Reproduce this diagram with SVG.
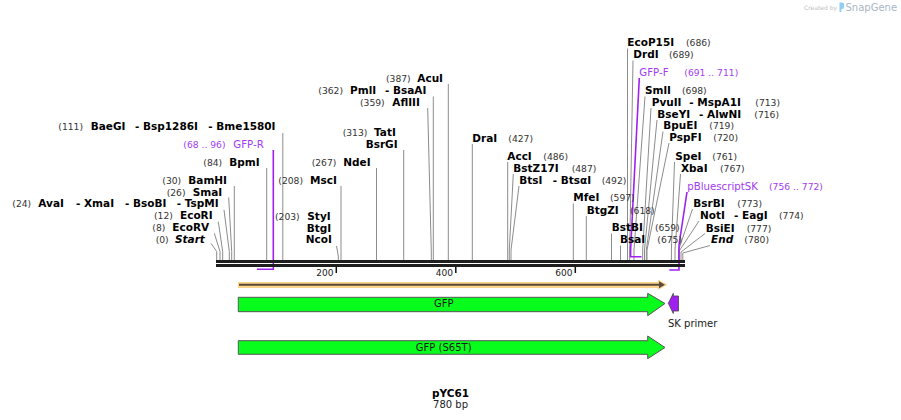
<svg xmlns="http://www.w3.org/2000/svg" width="901" height="420" viewBox="0 0 901 420">
<style>
.n{font-family:"DejaVu Sans",Verdana,sans-serif;font-weight:bold;font-size:10.5px;fill:#000}
.it{font-style:italic}
.c{font-family:"DejaVu Sans",Verdana,sans-serif;font-size:9.2px;fill:#333}
.p{font-family:"DejaVu Sans",Verdana,sans-serif;font-size:10.2px;fill:#a33cf2}
.pc{font-family:"DejaVu Sans",Verdana,sans-serif;font-size:9.2px;fill:#a33cf2}
.l{stroke:#8c8c8c;stroke-width:1;fill:none}
.pl{stroke:#a020f0;stroke-width:1.6;fill:none}
.f{font-family:"DejaVu Sans",Verdana,sans-serif;font-size:10px;fill:#1a1a1a}
.arr{fill:#08fc1c;stroke:#555;stroke-width:1}
.tk{font-family:"DejaVu Sans",Verdana,sans-serif;font-size:9px;fill:#222}
</style>
<rect width="901" height="420" fill="#fff"/>

<g id="watermark">
<text x="804" y="10" font-family="DejaVu Sans,sans-serif" font-size="6px" fill="#c0c0c0">Created by</text>
<path d="M839.5,2.5 h2.5 a2.2,2.2 0 0 1 2.2,2.2 v2 a2.2,2.2 0 0 1 -2.2,2.2 h-0.6 v3 h-1.9 z" fill="#8fcdf2"/>
<text x="845.5" y="10.7" font-family="DejaVu Sans,sans-serif" font-size="10px" fill="#a9b6c4">SnapGene</text>
</g>

<g id="connectors">
<path class="l" d="M282.8,133V260"/>
<path class="l" d="M266.7,168V260"/>
<path class="l" d="M234.3,186V260"/>
<path class="l" d="M228.7,197.5L231.7,251.5V260"/>
<path class="l" d="M224,210L229.3,251.5V260"/>
<path class="l" d="M218.3,221.7L222.7,251.5V260"/>
<path class="l" d="M214.3,233.3L220,251.5V260"/>
<path class="l" d="M211,243.3L216.7,251.5V260"/>
<path class="l" d="M341,186V260"/>
<path class="l" d="M336.5,246L338.3,256V260"/>
<path class="l" d="M376.5,168V260"/>
<path class="l" d="M403.7,150V260"/>
<path class="l" d="M427.7,108L431.3,252V260"/>
<path class="l" d="M433.3,96.5V260"/>
<path class="l" d="M448.3,84V260"/>
<path class="l" d="M472.3,144V260"/>
<path class="l" d="M507.7,162V260"/>
<path class="l" d="M513.3,174L509.3,250V260"/>
<path class="l" d="M519,186L511,250V260"/>
<path class="l" d="M573.3,203.5V260"/>
<path class="l" d="M586.3,216V260"/>
<path class="l" d="M611.5,233.5V260"/>
<path class="l" d="M620.5,245.5V260"/>
<path class="l" d="M627.5,48.5V260"/>
<path class="l" d="M633,60.5L629.7,250V260"/>
<path class="l" d="M645,96.5L634,250V260"/>
<path class="l" d="M651,108L642.7,250V260"/>
<path class="l" d="M657,120L644.5,250V260"/>
<path class="l" d="M663,131.5L646.3,250V260"/>
<path class="l" d="M669,143L647,250V260"/>
<path class="l" d="M674.5,162L671.4,250V260"/>
<path class="l" d="M680.5,174L675,250V260"/>
<path class="l" d="M692.5,209L678.6,250V260"/>
<path class="l" d="M699,221L679.2,251V260"/>
<path class="l" d="M705,233.5L681,252V260"/>
<path class="l" d="M710,245.5L682.8,253V260"/>
<path class="pl" d="M273.3,150V269.3H257"/>
<path class="pl" d="M639.3,78L630.6,250V256.7H641.5"/>
<path class="pl" d="M687,192L679,245V270H669.3"/>
</g>

<g id="sequence">
<rect x="216" y="260" width="469" height="3" fill="#1e1e1e"/>
<rect x="216" y="264" width="469" height="3" fill="#1e1e1e"/>
<path d="M336.3,267V273M455.8,267V273M575.3,267V273" stroke="#111" stroke-width="1.5"/>
<text class="tk" x="333.5" y="275.5" text-anchor="end">200</text>
<text class="tk" x="453" y="275.5" text-anchor="end">400</text>
<text class="tk" x="572.5" y="275.5" text-anchor="end">600</text>
</g>

<g id="BaeGI"><text class="c" x="58.3" y="129.5">(111)</text><text class="n" y="129.5"><tspan x="90.7">BaeGI</tspan><tspan x="135">- Bsp1286I</tspan><tspan x="208.3">- Bme1580I</tspan></text></g>
<g id="GFP-R-label"><text class="pc" x="183.3" y="147.5">(68 .. 96)</text><text class="p" x="233.3" y="147.5">GFP-R</text></g>
<g id="BpmI"><text class="c" x="203.3" y="165.5">(84)</text><text class="n" x="229.3" y="165.5">BpmI</text></g>
<g id="BamHI"><text class="c" x="162.3" y="183.5">(30)</text><text class="n" x="188.3" y="183.5">BamHI</text></g>
<g id="SmaI"><text class="c" x="166.7" y="195.5">(26)</text><text class="n" x="192.7" y="195.5">SmaI</text></g>
<g id="AvaI"><text class="c" x="12.3" y="207.3">(24)</text><text class="n" y="207.3"><tspan x="38.3">AvaI</tspan><tspan x="76">- XmaI</tspan><tspan x="125">- BsoBI</tspan><tspan x="176.7">- TspMI</tspan></text></g>
<g id="EcoRI"><text class="c" x="154" y="219.3">(12)</text><text class="n" x="180" y="219.3">EcoRI</text></g>
<g id="EcoRV"><text class="c" x="152.3" y="231.2">(8)</text><text class="n" x="172.3" y="231.2">EcoRV</text></g>
<g id="Start"><text class="c" x="155.7" y="243">(0)</text><text class="n it" x="175" y="243">Start</text></g>

<g id="MscI"><text class="c" x="278.3" y="183.5">(208)</text><text class="n" x="310" y="183.5">MscI</text></g>
<g id="NcoI"><text class="c" x="275" y="219.5">(203)</text><text class="n" x="307.3" y="219.5">StyI</text><text class="n" x="306.7" y="231.5">BtgI</text><text class="n" x="305.7" y="243.3">NcoI</text></g>
<g id="NdeI"><text class="c" x="311.7" y="166">(267)</text><text class="n" x="343.3" y="166">NdeI</text></g>
<g id="TatI"><text class="c" x="342.7" y="136">(313)</text><text class="n" x="374" y="136">TatI</text><text class="n" x="365.7" y="147.7">BsrGI</text></g>
<g id="AflIII"><text class="c" x="360" y="106">(359)</text><text class="n" x="392.3" y="106">AflIII</text></g>
<g id="PmlI"><text class="c" x="318.3" y="94">(362)</text><text class="n" y="94"><tspan x="350">PmlI</tspan><tspan x="385">- BsaAI</tspan></text></g>
<g id="AcuI"><text class="c" x="386" y="81.7">(387)</text><text class="n" x="417.3" y="81.7">AcuI</text></g>
<g id="DraI"><text class="n" x="472.3" y="141.7">DraI</text><text class="c" x="508.3" y="141.7">(427)</text></g>
<g id="AccI"><text class="n" x="507.3" y="159.5">AccI</text><text class="c" x="543.3" y="159.5">(486)</text></g>
<g id="BstZ17I"><text class="n" x="513.3" y="171.7">BstZ17I</text><text class="c" x="571.7" y="171.7">(487)</text></g>
<g id="BtsI"><text class="n" y="183.5"><tspan x="519.3">BtsI</tspan><tspan x="552.7">- BtsαI</tspan></text><text class="c" x="601.7" y="183.5">(492)</text></g>
<g id="MfeI"><text class="n" x="573.3" y="201.3">MfeI</text><text class="c" x="610" y="201.3">(597)</text></g>
<g id="BtgZI"><text class="n" x="586.7" y="213.5">BtgZI</text><text class="c" x="630" y="213.5">(618)</text></g>
<g id="BstBI"><text class="n" x="611.7" y="231">BstBI</text><text class="c" x="655" y="231">(659)</text></g>
<g id="BsaI"><text class="n" x="620" y="243.3">BsaI</text><text class="c" x="657.3" y="243.3">(675)</text></g>

<g id="EcoP15I"><text class="n" x="627.3" y="46">EcoP15I</text><text class="c" x="686" y="46">(686)</text></g>
<g id="DrdI"><text class="n" x="633.3" y="58.3">DrdI</text><text class="c" x="669" y="58.3">(689)</text></g>
<g id="GFP-F-label"><text class="p" x="639.3" y="76">GFP-F</text><text class="pc" x="684.3" y="76">(691 .. 711)</text></g>
<g id="SmlI"><text class="n" x="645" y="94.3">SmlI</text><text class="c" x="682" y="94.3">(698)</text></g>
<g id="PvuII"><text class="n" y="106"><tspan x="651.7">PvuII</tspan><tspan x="689.3">- MspA1I</tspan></text><text class="c" x="755.3" y="106">(713)</text></g>
<g id="BseYI"><text class="n" y="117.7"><tspan x="657.3">BseYI</tspan><tspan x="699">- AlwNI</tspan></text><text class="c" x="754.3" y="117.7">(716)</text></g>
<g id="BpuEI"><text class="n" x="663.3" y="129.3">BpuEI</text><text class="c" x="709.3" y="129.3">(719)</text></g>
<g id="PspFI"><text class="n" x="669.3" y="141">PspFI</text><text class="c" x="713.3" y="141">(720)</text></g>
<g id="SpeI"><text class="n" x="675.3" y="160">SpeI</text><text class="c" x="712.3" y="160">(761)</text></g>
<g id="XbaI"><text class="n" x="681" y="171.7">XbaI</text><text class="c" x="720" y="171.7">(767)</text></g>
<g id="pBluescriptSK-label"><text class="p" x="687.3" y="190">pBluescriptSK</text><text class="pc" x="769" y="190">(756 .. 772)</text></g>
<g id="BsrBI"><text class="n" x="693.3" y="206.7">BsrBI</text><text class="c" x="737.3" y="206.7">(773)</text></g>
<g id="NotI"><text class="n" y="219"><tspan x="700">NotI</tspan><tspan x="734">- EagI</tspan></text><text class="c" x="779" y="219">(774)</text></g>
<g id="BsiEI"><text class="n" x="705.7" y="231.5">BsiEI</text><text class="c" x="746.7" y="231.5">(777)</text></g>
<g id="End"><text class="n it" x="711" y="243.3">End</text><text class="c" x="744.3" y="243.3">(780)</text></g>

<g id="ORF">
<path d="M238,282H658V279.5L667.5,284.8L658,290V288H238Z" fill="#fcd48c"/>
<path d="M239,284.8H660" stroke="#5a4a3a" stroke-width="2"/>
<path d="M659,281.3L665,284.8L659,288.3Z" fill="#5a4a3a"/>
</g>
<g id="GFP">
<path class="arr" d="M238.3,297.3H647.7V293.3L665,303.5L647.7,315.7V311.7H238.3Z"/>
<text class="f" x="443.7" y="307" text-anchor="middle">GFP</text>
</g>
<g id="SK-primer">
<path d="M668.3,303.3L673.3,293.3V296H678.5V311H673.3V313.5Z" fill="#a020f0" stroke="#444" stroke-width="0.8"/>
<text class="f" x="668" y="326.5">SK primer</text>
</g>
<g id="GFP-S65T">
<path class="arr" d="M238.3,340.7H647.7V336L665,347.5L647.7,358.7V354.3H238.3Z"/>
<text class="f" x="443.7" y="350.5" text-anchor="middle">GFP (S65T)</text>
</g>
<g id="title">
<text x="450.5" y="396.5" text-anchor="middle" font-family="DejaVu Sans,Verdana,sans-serif" font-weight="bold" font-size="10.5px" fill="#000">pYC61</text>
<text x="450.5" y="408" text-anchor="middle" font-family="DejaVu Sans,Verdana,sans-serif" font-size="10px" fill="#222">780 bp</text>
</g>
</svg>
